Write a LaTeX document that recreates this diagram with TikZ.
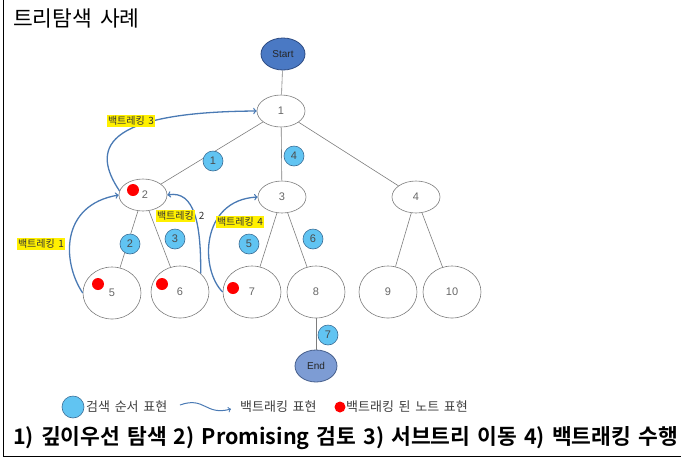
\documentclass[tikz,border=0pt]{standalone}
\usepackage{fontspec}
\setmainfont{Noto Sans CJK KR}[WordSpace=1.6]
\newfontfamily\boldkr{Noto Sans CJK KR Bold}[WordSpace=1.45]
\newfontfamily\numfont{Liberation Sans}
\usetikzlibrary{shapes.geometric}

\definecolor{ordblue}{RGB}{97,196,242}
\definecolor{ordline}{RGB}{60,110,150}
\definecolor{startfill}{RGB}{74,121,196}
\definecolor{startline}{RGB}{45,75,130}
\definecolor{endfill}{RGB}{125,156,212}
\definecolor{endline}{RGB}{70,95,140}
\definecolor{backblue}{RGB}{74,122,180}
\definecolor{hlyellow}{RGB}{255,240,0}
\definecolor{treegray}{RGB}{125,125,125}

\newcommand{\hlw}[1]{{\setlength\fboxsep{1.5pt}\colorbox{hlyellow}{#1}}}

\tikzset{
  tnode/.style={ellipse, draw=treegray, line width=0.6pt, minimum width=48, minimum height=32,
    inner sep=0pt, text=black!60, font=\numfont\fontsize{11}{11}\selectfont},
  leaf/.style={tnode, minimum width=58, minimum height=52},
  term/.style={ellipse, line width=0.8pt, minimum width=44, minimum height=32, inner sep=0pt,
    text=black!85, font=\numfont\fontsize{10}{10}\selectfont},
  ord/.style={circle, draw=ordline, fill=ordblue, line width=0.6pt, minimum size=20, inner sep=0pt,
    text=black!70, font=\numfont\fontsize{11}{11}\selectfont},
  reddot/.style={circle, fill=red, minimum size=12, inner sep=0pt},
  edge/.style={draw=treegray, line width=0.6pt},
  back/.style={draw=backblue, line width=1.3pt, ->},
  blab/.style={inner sep=0pt, text=black!80, font=\fontsize{10}{10}\selectfont},
  legend/.style={anchor=west, inner sep=0pt, text=black!75, font=\fontsize{13}{13}\selectfont}
}

\begin{document}
\begin{tikzpicture}[x=1pt, y=-1pt]
	 \useasboundingbox (0,0) rectangle (681,459);
	 \draw[line width=0.8pt] (3,0) -- (3,456) -- (681,456);

	 % title
	 \node (title) [anchor=west, inner sep=0pt, font=\fontsize{21.5}{21.5}\selectfont] at (13,18) {트리탐색 사례};

	 % tree
	 \node (st) [term, draw=startline, fill=startfill] at (283,54) {Start};
	 \node (n1) [tnode] at (281,111) {1};
	 \node (n2) [tnode] at (143,195) {\,\,2};
	 \node (n3) [tnode] at (282,197) {3};
	 \node (n4) [tnode] at (416,197) {4};
	 \node (n5) [leaf] at (112,293) {5};
	 \node (n6) [leaf] at (180,292) {6};
	 \node (n7) [leaf] at (252,292) {7};
	 \node (n8) [leaf] at (316,292) {8};
	 \node (n9) [leaf] at (388,292) {9};
	 \node (n10) [leaf] at (452,292) {10};
	 \node (en) [term, draw=endline, fill=endfill, minimum width=42] at (316,366) {End};

	 \draw[edge] (st) to (n1);
	 \draw[edge] (n1) to (n2);
	 \draw[edge] (n1) to (n3);
	 \draw[edge] (n1) to (n4);
	 \draw[edge] (n2) to (n5);
	 \draw[edge] (n2) to (n6);
	 \draw[edge] (n3) to (n7);
	 \draw[edge] (n3) to (n8);
	 \draw[edge] (n4) to (n9);
	 \draw[edge] (n4) to (n10);
	 \draw[edge] (n8) to (en);

	 % search order
	 \node (o1) [ord] at (213,161) {1};
	 \node (o2) [ord] at (130,244) {2};
	 \node (o3) [ord] at (175,239) {3};
	 \node (o4) [ord] at (294,156) {4};
	 \node (o5) [ord] at (249,244) {5};
	 \node (o6) [ord] at (313,239) {6};
	 \node (o7) [ord] at (328,335) {7};

	 % backtracked nodes
	 \node (d2) [reddot] at (133,190) {};
	 \node (d5) [reddot] at (98,284) {};
	 \node (d6) [reddot] at (162,284) {};
	 \node (d7) [reddot] at (233,288) {};

	 % backtracking
	 \draw[back] (n5.west) .. controls (62,262) and (60,205) .. (n2.west);
	 \draw[back] (n6.north east) .. controls (201,225) and (195,190) .. (n2.east);
	 \draw[back] (n2.170) .. controls (92,150) and (100,112) .. (n1.west);
	 \draw[back] (n7.west) .. controls (200,270) and (200,200) .. (n3.west);

	 \node (b1) [blab] at (41,244) {\hlw{백트레킹 1}};
	 \node (b2) [blab] at (180,216) {\hlw{백트레킹} 2};
	 \node (b3) [blab] at (131,121) {\hlw{백트레킹 3}};
	 \node (b4) [blab] at (240,222) {\hlw{백트레킹 4}};

	 % legend
	 \node (lc) [ord, minimum size=22] at (73,407) {};
	 \node (lt1) [legend] at (86,407) {검색 순서 표현};
	 \coordinate (wa) at (180,405);
	 \coordinate (wb) at (231,409);
	 \draw[back, line width=1pt] (wa) .. controls (205,396) and (205,416) .. (wb);
	 \node (lt2) [legend] at (240,407) {백트래킹 표현};
	 \node (ld) [reddot, minimum size=11] at (340,407) {};
	 \node (lt3) [legend] at (346,407) {백트래킹 된 노트 표현};

	 \node (steps) [anchor=west, inner sep=0pt, font=\boldkr\fontsize{21.5}{21.5}\selectfont] at (13,438)
	   {1) 깊이우선 탐색 2) Promising 검토 3) 서브트리 이동 4) 백트래킹 수행};
	\end{tikzpicture}
\end{document}
